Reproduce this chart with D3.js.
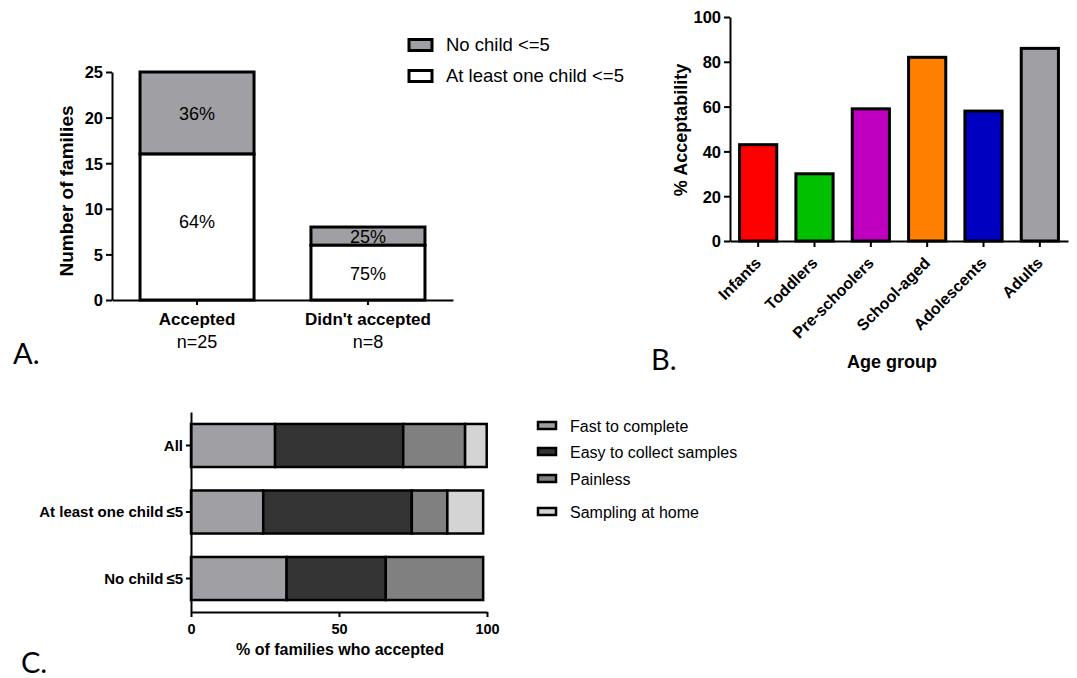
<!DOCTYPE html>
<html>
<head>
<meta charset="utf-8">
<title>Acceptability figure</title>
<script src="https://cdn.jsdelivr.net/npm/d3@7"></script>
<style>
  body { margin: 0; background: #fff; }
  svg text { font-family: "Liberation Sans", Arial, sans-serif; }
  .axis path, .axis line { stroke: #000; stroke-width: 2px; }
  .axis text { font-weight: bold; fill: #000; }
  .panel-label { font-family: Lato, "Open Sans", sans-serif !important; font-size: 29px; }
</style>
</head>
<body>
<script>
// ---- panel A data
var groupsA = ["Accepted", "Didn't accepted"];
var groupsAn = ["n=25", "n=8"];
var atLeastOne = [16, 6];
var noChild = [9, 2];
var pctAtLeast = ["64%", "75%"];
var pctNoChild = ["36%", "25%"];
var seriesA = ["No child <=5", "At least one child <=5"];
var ticksA = [0, 5, 10, 15, 20, 25];

// ---- panel B data
var ageGroups = ["Infants", "Toddlers", "Pre-schoolers", "School-aged", "Adolescents", "Adults"];
var acceptability = [43, 30, 59, 82, 58, 86];
var ticksB = [0, 20, 40, 60, 80, 100];

// ---- panel C data
var groupsC = ["All", "At least one child\u2009\u22645", "No child\u2009\u22645"];
var reasons = ["Fast to complete", "Easy to collect samples", "Painless", "Sampling at home"];
var fastVals = [28.4, 24.4, 32.3];
var easyVals = [43.3, 50.2, 33.5];
var painlessVals = [20.9, 12.0, 32.9];
var homeVals = [7.3, 12.1, 0];
var ticksC = [0, 50, 100];

var svg = d3.select("body").append("svg")
    .attr("width", 1077).attr("height", 678);

// ================= Panel A =================
(function () {
  var x = d3.scaleBand().domain(groupsA).range([112, 453])
      .paddingInner(0.333).paddingOuter(0.164);
  var y = d3.scaleLinear().domain([0, 25]).range([300, 72]);

  svg.append("g").attr("class", "axis").attr("transform", "translate(112,0)")
    .call(d3.axisLeft(y).tickValues(ticksA).tickSize(6).tickSizeOuter(0))
    .selectAll("text").style("font-size", "16.5px").attr("dy", "0.36em");
  var xa = svg.append("g").attr("class", "axis").attr("transform", "translate(0,300)")
    .call(d3.axisBottom(x).tickSize(5).tickSizeOuter(0));
  xa.selectAll("text").remove();

  var g = svg.append("g");
  groupsA.forEach(function (c, i) {
    var total = atLeastOne[i] + noChild[i];
    g.append("rect").attr("x", x(c)).attr("width", x.bandwidth())
      .attr("y", y(total)).attr("height", y(atLeastOne[i]) - y(total))
      .attr("fill", "#a0a0a4").attr("stroke", "#000").attr("stroke-width", 3);
    g.append("rect").attr("x", x(c)).attr("width", x.bandwidth())
      .attr("y", y(atLeastOne[i])).attr("height", y(0) - y(atLeastOne[i]))
      .attr("fill", "#fff").attr("stroke", "#000").attr("stroke-width", 3);
    var cx = x(c) + x.bandwidth() / 2;
    g.append("text").attr("x", cx).attr("y", y(atLeastOne[i] + noChild[i] / 2) + 7)
      .attr("text-anchor", "middle").style("font-size", "18px").text(pctNoChild[i]);
    g.append("text").attr("x", cx).attr("y", y(atLeastOne[i] / 2) + 7 - (atLeastOne[i] > 10 ? 6 : 0))
      .attr("text-anchor", "middle").style("font-size", "18px").text(pctAtLeast[i]);
    g.append("text").attr("x", cx).attr("y", 325).attr("text-anchor", "middle")
      .style("font-size", "17px").style("font-weight", "bold").text(c);
    g.append("text").attr("x", cx).attr("y", 348).attr("text-anchor", "middle")
      .style("font-size", "18px").text(groupsAn[i]);
  });

  svg.append("text").attr("transform", "translate(73,191) rotate(-90)")
    .attr("text-anchor", "middle").style("font-size", "19px").style("font-weight", "bold")
    .text("Number of families");

  var leg = svg.append("g");
  seriesA.forEach(function (s, i) {
    leg.append("rect").attr("x", 409).attr("y", 39.5 + i * 31).attr("width", 23).attr("height", 11)
      .attr("fill", i === 0 ? "#a0a0a4" : "#fff").attr("stroke", "#000").attr("stroke-width", 3);
    leg.append("text").attr("x", 446).attr("y", 51 + i * 31).style("font-size", "18.5px").text(s);
  });

  svg.append("text").attr("class", "panel-label").attr("x", 13).attr("y", 364).text("A.");
})();

// ================= Panel B =================
(function () {
  var colors = ["#ff0000", "#00c000", "#c000c0", "#ff8000", "#0000c0", "#a0a0a4"];
  var x = d3.scaleBand().domain(ageGroups).range([730, 1068])
      .paddingInner(0.34).paddingOuter(0.17);
  var y = d3.scaleLinear().domain([0, 100]).range([241, 17]);

  svg.append("g").selectAll("rect").data(acceptability).join("rect")
    .attr("x", function (d, i) { return x(ageGroups[i]); })
    .attr("width", x.bandwidth())
    .attr("y", function (d) { return y(d); })
    .attr("height", function (d) { return y(0) - y(d); })
    .attr("fill", function (d, i) { return colors[i]; })
    .attr("stroke", "#000").attr("stroke-width", 3);

  svg.append("g").attr("class", "axis").attr("transform", "translate(730,0)")
    .call(d3.axisLeft(y).tickValues(ticksB).tickSize(6).tickSizeOuter(0))
    .selectAll("text").style("font-size", "16.5px").attr("dy", "0.36em");
  var xa = svg.append("g").attr("class", "axis").attr("transform", "translate(0,241)")
    .call(d3.axisBottom(x).tickSize(6).tickSizeOuter(0));
  xa.selectAll("text").style("font-size", "16px").attr("text-anchor", "end")
    .attr("x", 0).attr("y", 0).attr("dy", 0)
    .attr("transform", "translate(4,23) rotate(-45)");

  svg.append("text").attr("transform", "translate(687,130) rotate(-90)")
    .attr("text-anchor", "middle").style("font-size", "18px").style("font-weight", "bold")
    .text("% Acceptability");
  svg.append("text").attr("x", 892).attr("y", 368).attr("text-anchor", "middle")
    .style("font-size", "18px").style("font-weight", "bold").text("Age group");

  svg.append("text").attr("class", "panel-label").attr("x", 651).attr("y", 370).text("B.");
})();

// ================= Panel C =================
(function () {
  var colors = ["#a0a0a4", "#333333", "#808080", "#d4d4d4"];
  var valueSets = [fastVals, easyVals, painlessVals, homeVals];
  var x = d3.scaleLinear().domain([0, 100]).range([191, 487]);
  var y = d3.scaleBand().domain(groupsC).range([412, 612])
      .paddingInner(0.353).paddingOuter(0.18);

  var stackData = groupsC.map(function (c, i) {
    var row = { group: c };
    reasons.forEach(function (r, k) { row[r] = valueSets[k][i]; });
    return row;
  });
  var stacked = d3.stack().keys(reasons)(stackData);

  var g = svg.append("g");
  stacked.forEach(function (layer, k) {
    g.selectAll(null).data(layer.filter(function (d) { return d[1] - d[0] > 0; })).join("rect")
      .attr("x", function (d) { return x(d[0]); })
      .attr("width", function (d) { return x(d[1]) - x(d[0]); })
      .attr("y", function (d) { return y(d.data.group); })
      .attr("height", y.bandwidth())
      .attr("fill", colors[k]).attr("stroke", "#000").attr("stroke-width", 2.5);
  });

  svg.append("g").attr("class", "axis").attr("transform", "translate(191,0)")
    .call(d3.axisLeft(y).tickSize(5).tickSizeOuter(0))
    .selectAll("text").style("font-size", "15px").attr("dy", "0.36em");
  svg.append("g").attr("class", "axis").attr("transform", "translate(0,612)")
    .call(d3.axisBottom(x).tickValues(ticksC).tickSize(5).tickSizeOuter(0))
    .selectAll("text").style("font-size", "14.5px").attr("y", 12);

  svg.append("text").attr("x", 340).attr("y", 655).attr("text-anchor", "middle")
    .style("font-size", "16px").style("font-weight", "bold").text("% of families who accepted");

  var legY = [426, 452, 479, 512];
  var leg = svg.append("g");
  reasons.forEach(function (r, k) {
    leg.append("rect").attr("x", 538).attr("y", legY[k] - 4).attr("width", 18).attr("height", 7)
      .attr("fill", colors[k]).attr("stroke", "#000").attr("stroke-width", 2.5);
    leg.append("text").attr("x", 570).attr("y", legY[k] + 6).style("font-size", "16px").text(r);
  });

  svg.append("text").attr("class", "panel-label").attr("x", 21).attr("y", 673).text("C.");
})();
</script>
</body>
</html>
